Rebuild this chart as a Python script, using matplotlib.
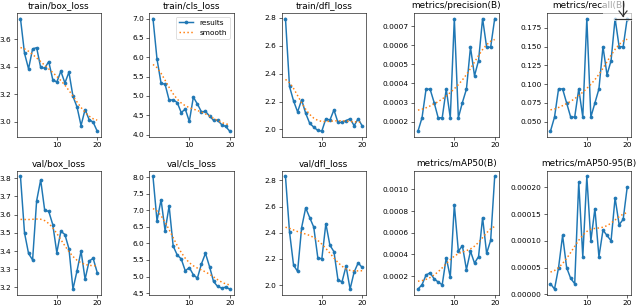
import numpy as np
import matplotlib
matplotlib.use("Agg")
import matplotlib.pyplot as plt
from matplotlib.lines import Line2D
from matplotlib.patches import Rectangle

epochs = list(range(1, 21))

train_box_loss = [3.749, 3.496, 3.383, 3.528, 3.537, 3.393, 3.388, 3.436, 3.304, 3.287,
                  3.366, 3.280, 3.359, 3.183, 3.106, 2.971, 3.087, 3.014, 2.995, 2.930]
train_cls_loss = [7.00, 5.95, 5.33, 5.30, 4.89, 4.90, 4.83, 4.57, 4.66, 4.34,
                  4.97, 4.79, 4.59, 4.60, 4.48, 4.37, 4.37, 4.26, 4.21, 4.09]
train_dfl_loss = [2.795, 2.308, 2.205, 2.126, 2.212, 2.116, 2.044, 2.017, 1.993, 1.988,
                  2.077, 2.067, 2.140, 2.050, 2.050, 2.063, 2.077, 2.027, 2.077, 2.025]
precision = [0.00015, 0.00022, 0.00037, 0.00037, 0.00030, 0.00022, 0.00022, 0.00037, 0.00022, 0.00074,
             0.00022, 0.00030, 0.00037, 0.00059, 0.00044, 0.00052, 0.00074, 0.00059, 0.00059, 0.00074]
recall = [0.0375, 0.05625, 0.09375, 0.09375, 0.075, 0.05625, 0.05625, 0.09375, 0.05625, 0.1875,
          0.05625, 0.075, 0.09375, 0.15, 0.1125, 0.13125, 0.1875, 0.15, 0.15, 0.1875]
val_box_loss = [3.810, 3.500, 3.387, 3.351, 3.676, 3.791, 3.624, 3.618, 3.545, 3.391,
                3.509, 3.491, 3.413, 3.191, 3.291, 3.400, 3.245, 3.345, 3.360, 3.282]
val_cls_loss = [8.02, 6.68, 7.32, 6.38, 7.13, 5.92, 5.65, 5.53, 5.17, 5.27,
                5.05, 4.95, 5.38, 5.70, 5.30, 4.85, 4.70, 4.65, 4.68, 4.62]
val_dfl_loss = [2.83, 2.407, 2.153, 2.105, 2.440, 2.590, 2.516, 2.443, 2.211, 2.200,
                2.470, 2.305, 2.256, 2.040, 2.025, 2.145, 1.970, 2.100, 2.170, 2.135]
map50 = [0.00008, 0.00012, 0.00021, 0.00023, 0.000175, 0.000145, 0.00012, 0.00037, 0.00019, 0.00086,
         0.00043, 0.00048, 0.00026, 0.00043, 0.00032, 0.00038, 0.00074, 0.00041, 0.00053, 0.00112]
map50_95 = [0.00002, 0.00001, 0.00005, 0.00011, 0.00005, 0.00003, 0.00002, 0.00021, 0.00007, 0.00022,
            0.00010, 0.00016, 0.00007, 0.00012, 0.00011, 0.00010, 0.00018, 0.00013, 0.00014, 0.00020]

titles = ["train/box_loss", "train/cls_loss", "train/dfl_loss", "metrics/precision(B)", "metrics/recall(B)",
          "val/box_loss", "val/cls_loss", "val/dfl_loss", "metrics/mAP50(B)", "metrics/mAP50-95(B)"]
series = [train_box_loss, train_cls_loss, train_dfl_loss, precision, recall,
          val_box_loss, val_cls_loss, val_dfl_loss, map50, map50_95]


def gaussian_smooth(y, sigma=3, truncate=4.0):
    """1d gaussian filter, reflect mode (same as scipy default)"""
    y = np.asarray(y, dtype=float)
    r = int(truncate * sigma + 0.5)
    k = np.exp(-0.5 * (np.arange(-r, r + 1) / sigma) ** 2)
    k /= k.sum()
    n = len(y)
    # half-sample symmetric reflection
    idx = np.mod(np.arange(-r, n + r), 2 * n)
    idx = np.where(idx >= n, 2 * n - 1 - idx, idx)
    return np.convolve(y[idx], k, mode="valid")


DPI = 640 / 12
fig, axs = plt.subplots(2, 5, figsize=(12, 307 / DPI), dpi=DPI)
fig.subplots_adjust(left=0.026, right=0.986, top=0.958, bottom=0.04, wspace=0.57, hspace=0.275)
axs = axs.ravel()

for i, ax in enumerate(axs):
    y = series[i]
    ax.plot(epochs, y, marker=".", label="results", linewidth=2, markersize=8)
    ax.plot(epochs, gaussian_smooth(y), ":", label="smooth", linewidth=2)
    ax.set_title(titles[i], fontsize=12)
    ax.tick_params(labelsize=10)

axs[1].legend(fontsize=10)


# overlay icon over the recall panel corner (as in the screenshot)
def px(x, y):
    return x / 640, 1 - y / 307


x0, y0 = px(603, 21)
fig.patches.append(Rectangle((x0, y0), 37 / 640, 21 / 307, transform=fig.transFigure,
                             facecolor="white", alpha=0.65, edgecolor="none", zorder=10))
for (xa, ya), (xb, yb) in [((623, 1), (623, 16)), ((619, 11), (623, 16)), ((627, 11), (623, 16)),
                           ((615, 18.5), (631, 18.5))]:
    a, b = px(xa, ya), px(xb, yb)
    fig.lines.append(Line2D([a[0], b[0]], [a[1], b[1]], transform=fig.transFigure,
                            color="#333333", linewidth=1.6, zorder=11))

plt.savefig("out.png", dpi=DPI)
